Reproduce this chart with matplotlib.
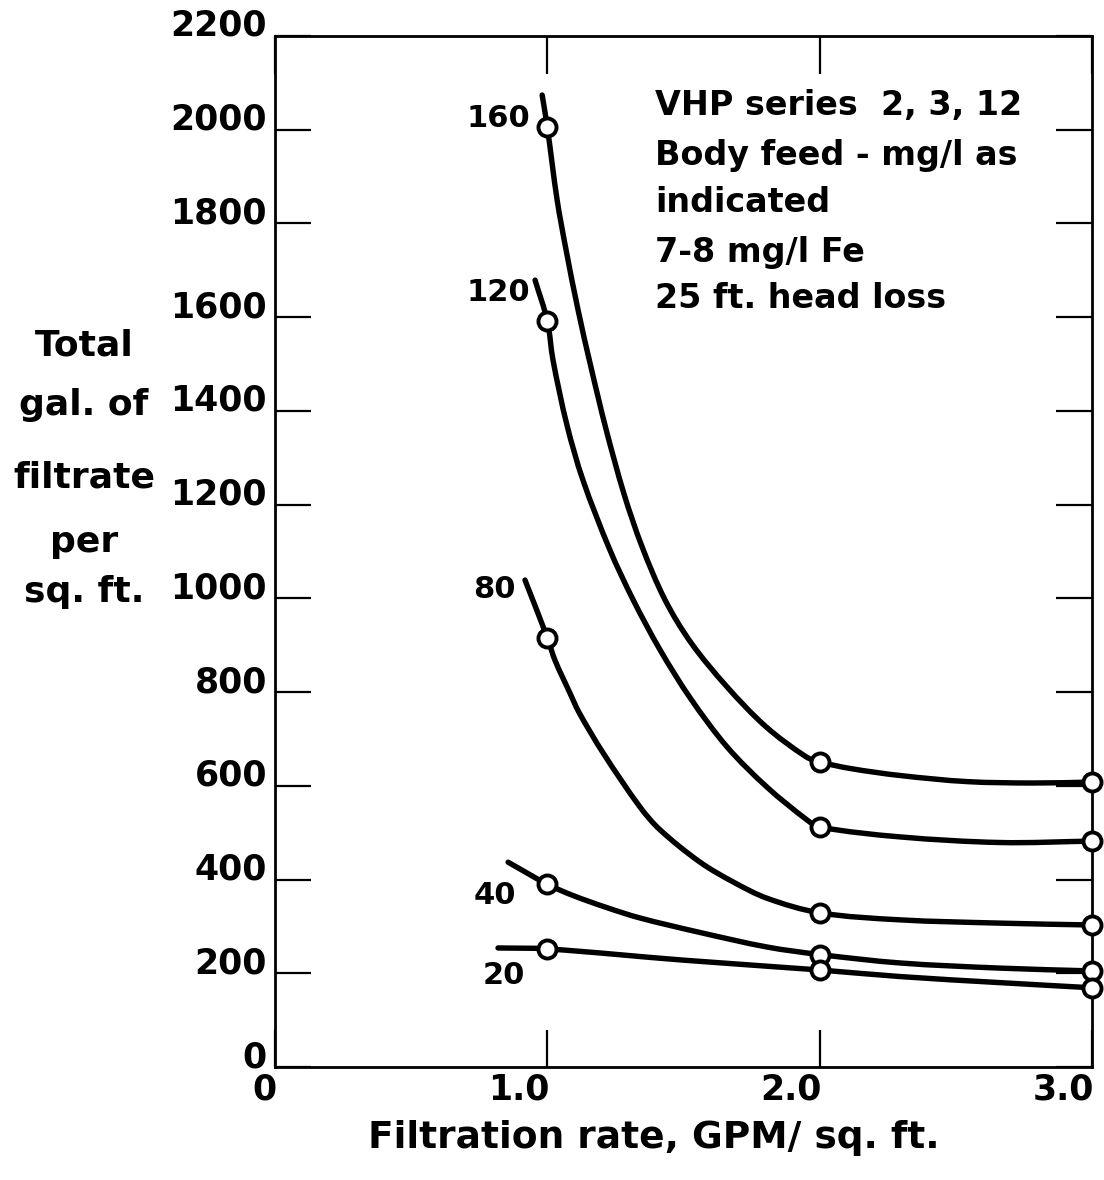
import matplotlib
matplotlib.use("Agg")
import numpy as np
import matplotlib.pyplot as plt
from matplotlib.transforms import offset_copy
from matplotlib.path import Path
from matplotlib.patches import PathPatch

plt.rcParams['font.family'] = ['DejaVu Sans']

# ---- data ----
rate_points = [1.0, 2.0, 3.0]          # GPM / sq. ft. (circle markers)
gal_160 = [2005, 651, 608]
gal_120 = [1592, 512, 482]
gal_80 = [916, 329, 303]
gal_40 = [390, 240, 205]
gal_20 = [252, 207, 169]

# traced smooth curves (drawn lines)
curve160_x = [0.981, 1.0, 1.036, 1.069, 1.113, 1.160, 1.216, 1.282, 1.348, 1.432, 1.528, 1.660, 1.803, 1.950, 2.0, 2.112, 2.295, 2.541, 2.784, 3.0]
curve160_y = [2074, 2005, 1850, 1743, 1615, 1494, 1360, 1222, 1110, 997, 905, 811, 726, 662, 651, 637, 622, 609, 606, 608]
curve120_x = [0.955, 1.0, 1.021, 1.072, 1.131, 1.230, 1.315, 1.414, 1.524, 1.660, 1.807, 1.954, 2.0, 2.295, 2.663, 3.0]
curve120_y = [1679, 1592, 1508, 1370, 1252, 1103, 997, 890, 788, 683, 597, 527, 512, 491, 479, 482]
curve80_x = [0.918, 1.0, 1.028, 1.083, 1.116, 1.205, 1.340, 1.414, 1.561, 1.682, 1.807, 2.0, 2.295, 2.663, 3.0]
curve80_y = [1039, 916, 868, 798, 757, 670, 555, 506, 437, 395, 360, 329, 314, 307, 303]
curve40_x = [0.856, 1.0, 1.094, 1.219, 1.340, 1.561, 1.807, 2.0, 2.295, 2.663, 3.0]
curve40_y = [437, 390, 366, 340, 318, 287, 256, 240, 222, 211, 205]
curve20_x = [0.819, 1.0, 1.5, 2.0, 2.295, 2.663, 3.0]
curve20_y = [254, 252, 228, 207, 193, 180, 169]

series_labels = ["160", "120", "80", "40", "20"]
label_x = [0.936, 0.936, 0.885, 0.885, 0.918]
label_y = [2025, 1652, 1018, 367, 196]

x_ticks = [0, 1.0, 2.0, 3.0]
x_tick_labels = ["0", "1.0", "2.0", "3.0"]
y_ticks = list(range(0, 2201, 200))
y_tick_labels = [str(v) for v in y_ticks]

note_lines = ["VHP series  2, 3, 12", "Body feed - mg/l as", "indicated",
              "7-8 mg/l Fe", "25 ft. head loss"]
ylabel_lines = ["Total", "gal. of", "filtrate", "per", "sq. ft."]
xlabel_text = "Filtration rate, GPM/ sq. ft."

# ---- figure ----
W, H = 1104, 1180
fig = plt.figure(figsize=(W / 100, H / 100), dpi=100)
ax = fig.add_axes([275 / W, 1 - 1067 / H, (1092 - 275) / W, (1067 - 36) / H])
ax.set_xlim(0, 3.0)
ax.set_ylim(0, 2200)

for s in ax.spines.values():
    s.set_linewidth(2.0)
    s.set_color('black')

ax.set_xticks(x_ticks)
ax.set_xticklabels([])
ax.set_yticks(y_ticks)
ax.set_yticklabels([])
ax.tick_params(axis='y', direction='in', left=True, right=True, length=26, width=1.6)
ax.tick_params(axis='x', direction='in', bottom=True, top=True, length=27, width=1.6)

# y tick labels (slightly raised, as in the reference)
ytr = offset_copy(ax.get_yaxis_transform(), fig=fig, x=-8, y=10, units='dots')
for v, lab in zip(y_ticks, y_tick_labels):
    ax.text(0, v, lab, transform=ytr, ha='right', va='center', fontsize=25,
            fontweight='bold', clip_on=False)

# x tick labels right-aligned at the tick
xtr = offset_copy(ax.get_xaxis_transform(), fig=fig, x=2, y=-5, units='dots')
for xv, lab in zip(x_ticks, x_tick_labels):
    ax.text(xv, 0, lab, transform=xtr, ha='right', va='top', fontsize=25,
            fontweight='bold', clip_on=False)


def smooth_path(xs, ys, sx=272.3, sy=0.4686):
    """Cubic Bezier path through the traced points (tangent-based handles)."""
    P = np.column_stack([np.asarray(xs) * sx, np.asarray(ys) * sy])
    n = len(P)
    T = np.zeros_like(P)
    for i in range(n):
        a = P[max(i - 1, 0)]
        b = P[min(i + 1, n - 1)]
        d = b - a
        T[i] = d / np.hypot(*d)
    verts = [P[0]]
    codes = [Path.MOVETO]
    for i in range(n - 1):
        L = np.hypot(*(P[i + 1] - P[i])) / 3.0
        verts += [P[i] + T[i] * L, P[i + 1] - T[i + 1] * L, P[i + 1]]
        codes += [Path.CURVE4] * 3
    V = np.array(verts)
    V[:, 0] /= sx
    V[:, 1] /= sy
    return Path(V, codes)


curves = [(curve160_x, curve160_y, gal_160), (curve120_x, curve120_y, gal_120),
          (curve80_x, curve80_y, gal_80), (curve40_x, curve40_y, gal_40),
          (curve20_x, curve20_y, gal_20)]
for cx, cy, gy in curves:
    patch = PathPatch(smooth_path(cx, cy), fill=False, edgecolor='black', lw=3.9,
                      capstyle='round', joinstyle='round', clip_on=False, zorder=3)
    ax.add_patch(patch)
    ax.plot(rate_points, gy, linestyle='none', marker='o', markersize=13,
            markerfacecolor='white', markeredgecolor='black', markeredgewidth=2.8,
            clip_on=False, zorder=4)

for lab, lx, ly in zip(series_labels, label_x, label_y):
    ax.text(lx, ly, lab, ha='right', va='center', fontsize=22, fontweight='bold')

# annotation block
note_base = [115, 165, 212, 262, 308]
for line, b in zip(note_lines, note_base):
    fig.text(655 / W, 1 - b / H, line, ha='left', va='baseline', fontsize=24,
             fontweight='bold')

# y label block
ylab_base = [355, 415, 488, 552, 602]
for line, b in zip(ylabel_lines, ylab_base):
    fig.text(84 / W, 1 - b / H, line, ha='center', va='baseline', fontsize=26,
             fontweight='bold')

fig.text(654 / W, 1 - 1148 / H, xlabel_text, ha='center',
         va='baseline', fontsize=27, fontweight='bold')

fig.savefig("out.png", dpi=100)
